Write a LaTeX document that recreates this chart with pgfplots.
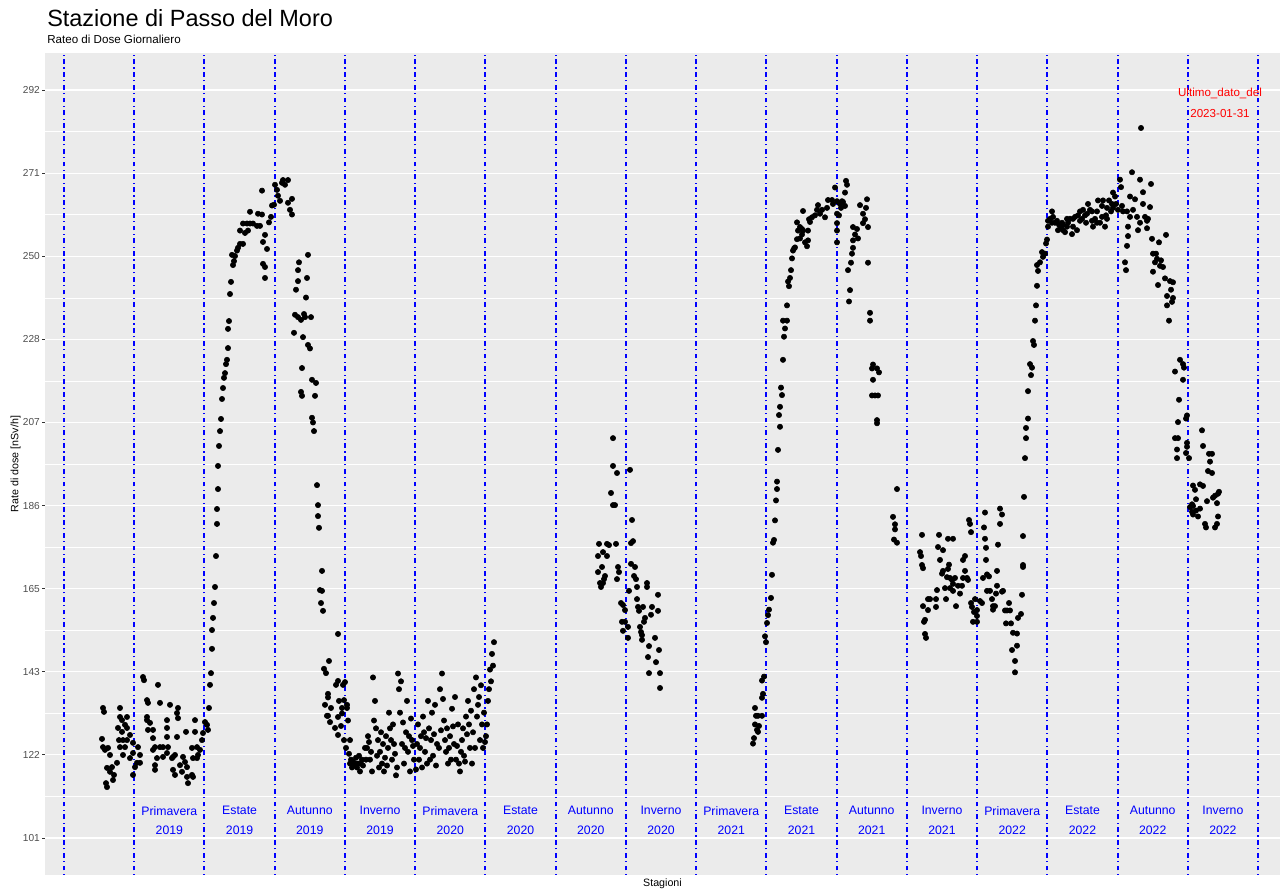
\documentclass[border=0pt]{standalone}
\usepackage{fontspec}
\setmainfont{Liberation Sans}
\usepackage{pgfplots}
\pgfplotsset{compat=1.18}
\definecolor{panelbg}{HTML}{EBEBEB}
\definecolor{ticklab}{HTML}{4D4D4D}
\definecolor{tickcol}{HTML}{333333}
\definecolor{vblue}{HTML}{0000FF}
\pgfplotstableread{
x y
103 134.2
104 133.2
102 126.3
103 124.2
105 123.5
108 124.0
110 122.2
107 118.9
112 119.1
110 117.9
117 120.2
114 117.1
113 115.8
106 115.0
107 114.0
120 134.2
120 131.9
122 131.1
127 131.9
125 129.9
118 129.1
122 128.1
127 129.1
130 127.3
119 126.0
123 126.0
127 126.0
120 124.2
125 124.2
123 122.2
130 121.4
133 125.3
133 122.7
135 119.1
133 117.1
137 120.2
140 120.2
138 124.2
140 122.2
143 142.1
144 141.3
147 136.2
148 135.5
158 140.1
147 131.9
147 131.1
150 130.4
153 128.6
148 128.6
153 126.5
155 124.2
160 124.2
163 124.2
168 124.2
153 123.5
157 121.4
155 119.6
155 118.4
163 121.7
167 122.7
160 135.5
170 135.0
167 131.1
167 129.1
167 126.8
177 126.8
178 134.2
177 132.9
178 131.6
173 121.7
175 122.2
173 118.4
175 117.1
172 121.4
180 119.6
183 121.7
185 120.4
182 117.9
187 119.1
187 116.6
188 115.0
192 117.1
193 116.6
186 128.1
195 131.1
195 128.1
192 124.0
197 124.2
193 121.4
197 121.4
198 122.2
200 123.5
202 126.0
203 127.8
205 130.6
207 129.9
208 128.6
209 134.2
210 140.1
211 143.1
212 149.3
212 154.1
213 157.2
214 161.0
215 165.1
216 173.0
217 181.2
217 185.0
218 190.1
218 196.0
219 201.1
220 204.9
221 208.0
222 213.1
223 215.9
224 218.5
225 219.7
226 222.0
227 223.1
228 226.1
228 231.0
229 233.0
230 239.9
231 243.0
233 247.3
234 248.3
232 249.9
235 249.6
237 251.0
238 251.7
240 252.7
243 252.7
240 256.1
245 255.5
243 257.9
248 256.1
247 257.9
250 257.9
253 257.9
257 257.3
260 257.3
250 260.9
258 260.4
262 260.2
262 266.3
263 253.2
265 255.0
267 251.4
263 247.6
265 246.8
265 244.0
269 258.2
271 259.6
272 262.5
274 262.7
275 267.8
277 266.5
278 265.0
280 263.7
282 268.3
283 269.0
285 267.8
288 269.0
288 263.2
292 264.2
290 261.4
292 260.2
308 249.9
299 248.0
298 246.0
307 244.0
298 243.2
296 241.0
306 239.0
295 234.6
298 234.0
301 233.3
304 234.8
305 234.0
311 234.0
294 230.0
303 228.9
308 226.9
310 226.0
302 221.0
312 218.0
316 217.2
301 214.9
302 213.9
315 213.9
312 208.3
313 207.1
314 204.9
317 191.1
318 186.0
318 183.2
319 180.2
322 169.2
320 164.3
322 164.1
321 161.0
323 159.0
338 153.1
329 146.2
324 144.2
326 143.1
338 141.1
336 140.1
345 140.8
343 140.1
328 137.8
328 136.9
325 135.0
331 134.2
339 136.0
344 136.2
342 134.2
347 134.2
327 132.2
328 132.2
338 131.9
342 132.8
330 130.6
335 129.1
338 127.3
341 129.6
344 126.0
346 124.0
347 135.0
348 131.0
350 126.0
350 120.0
352 119.0
355 120.0
358 120.0
360 118.0
362 121.0
365 124.0
367 124.0
368 127.0
370 121.0
372 118.0
373 142.0
375 136.0
376 129.0
378 126.0
380 123.0
382 120.0
384 118.0
386 127.0
388 124.0
390 129.0
392 121.0
394 125.0
396 117.0
398 143.0
399 139.0
400 133.0
402 125.0
404 120.0
406 128.0
408 123.0
410 118.0
412 126.0
414 121.0
417 125.0
419 121.0
421 127.0
423 132.0
425 123.0
427 120.0
429 129.0
431 126.0
433 122.0
435 135.0
437 125.0
440 139.0
442 143.0
444 131.0
446 123.0
448 120.0
450 127.0
452 134.0
454 125.0
456 121.0
458 130.0
460 118.0
462 126.0
464 122.0
466 132.0
468 136.0
470 124.0
472 120.0
474 139.0
476 142.0
478 135.0
480 126.0
482 130.0
484 133.0
486 127.0
488 136.0
489 139.0
490 144.0
492 148.0
494 151.0
349 122.5
351 121.0
353 120.5
354 119.5
356 121.5
357 119.0
359 122.0
361 120.0
363 119.5
366 121.0
369 125.5
371 123.0
374 131.0
377 122.0
379 119.0
381 128.0
383 125.0
385 121.5
387 119.5
389 133.0
391 126.0
393 130.0
395 122.5
397 119.0
401 141.0
403 130.5
405 124.0
407 136.0
409 127.0
411 131.5
413 124.5
416 118.5
418 130.0
420 124.0
422 119.0
424 128.0
426 126.5
428 136.0
430 121.0
432 133.0
434 127.5
436 119.5
439 124.0
441 128.5
443 136.5
445 126.0
447 129.0
449 124.0
451 121.0
453 129.5
455 137.0
457 124.5
459 120.0
461 123.0
463 129.0
465 120.5
467 127.5
469 130.0
471 133.5
473 128.0
475 124.0
477 132.0
479 137.0
481 140.0
483 124.0
485 125.5
487 130.0
491 141.0
493 145.0
613 203.1
613 196.0
617 194.2
630 195.0
611 189.1
613 186.0
615 186.0
632 182.2
599 176.1
607 176.1
609 175.8
616 176.1
603 174.0
598 173.0
607 173.0
631 176.3
633 176.8
631 171.0
635 170.2
602 170.2
598 168.9
618 170.2
619 168.9
605 167.9
604 167.1
617 167.1
634 167.9
636 167.1
600 166.1
603 166.1
601 165.1
637 165.1
647 166.1
647 165.1
629 164.1
621 161.0
623 160.5
625 159.2
637 162.0
638 160.0
643 160.0
652 160.0
658 163.1
639 159.0
651 158.0
658 159.0
645 157.2
644 156.2
622 156.2
625 156.2
628 154.9
623 153.9
640 154.9
641 153.6
642 152.8
628 152.1
642 151.6
655 152.1
649 150.0
659 149.0
648 147.2
656 145.9
649 143.1
660 143.1
660 139.3
753 125.1
754 126.5
755 130.0
757 128.6
758 128.1
759 129.6
756 132.2
758 132.2
762 132.2
755 134.2
762 136.8
763 137.8
762 141.2
764 142.2
765 152.5
766 151.0
767 155.9
768 157.9
769 159.3
771 162.3
772 168.2
773 176.4
774 177.1
775 182.1
776 187.2
777 190.1
777 192.0
778 200.1
780 206.0
779 209.0
780 211.1
782 214.1
781 216.0
783 223.1
784 229.0
785 231.1
783 233.1
787 233.1
787 237.0
789 241.9
788 243.1
790 244.0
791 246.0
792 249.0
793 251.0
794 251.5
797 253.9
795 251.8
800 254.1
802 255.1
798 256.1
805 253.1
807 252.1
808 253.6
797 258.2
800 257.0
802 256.5
803 256.1
808 256.1
803 261.1
809 259.0
810 258.3
812 259.5
815 260.0
817 261.4
818 262.6
820 260.4
822 261.4
825 259.5
827 261.9
828 263.9
832 263.9
833 262.9
837 263.6
840 262.9
842 263.6
843 263.4
845 262.4
835 267.1
846 268.8
847 267.8
845 265.8
837 260.4
837 258.0
837 256.1
837 253.1
839 260.0
841 261.9
860 262.6
867 264.1
866 261.9
863 260.4
865 259.0
863 258.0
868 257.0
853 257.0
857 256.5
855 255.1
858 254.1
853 253.6
853 251.7
852 250.2
851 247.9
848 246.0
868 247.9
850 240.9
849 238.0
870 235.1
870 233.1
873 221.9
872 220.9
877 220.9
879 219.9
873 218.0
872 214.0
875 214.0
878 214.0
877 207.7
877 206.9
897 190.1
893 183.0
895 181.1
895 179.8
894 177.2
897 176.4
922 178.4
920 174.0
921 173.0
922 170.7
923 169.9
923 160.2
928 162.0
930 162.0
928 159.2
925 156.7
924 156.2
925 153.1
926 152.1
936 162.0
936 160.0
937 164.3
939 178.4
938 175.3
940 172.0
943 174.5
942 168.5
943 169.2
945 164.8
946 162.0
947 167.6
948 169.7
949 170.8
948 177.4
953 177.4
950 167.4
952 166.9
953 165.9
955 167.4
950 164.8
953 164.1
956 160.2
958 165.4
960 163.4
962 165.4
963 167.4
965 169.2
963 172.0
965 173.0
967 167.4
968 166.9
969 182.2
970 181.2
971 179.1
971 161.0
972 160.0
973 156.2
974 158.7
975 162.0
977 159.2
977 157.7
977 156.2
980 161.5
982 161.0
983 167.4
985 184.1
984 180.3
985 177.4
986 175.1
986 172.0
987 168.3
989 167.8
987 164.1
990 164.1
992 162.0
993 160.2
993 159.3
995 160.2
996 163.4
997 165.4
997 169.2
998 175.9
1000 181.2
1000 185.1
1002 183.6
1002 163.9
1003 164.1
1005 159.1
1006 155.8
1007 159.1
1009 161.0
1010 159.1
1011 155.8
1012 149.0
1015 146.2
1015 143.3
1013 153.4
1017 150.1
1017 153.2
1018 157.2
1021 158.2
1022 163.1
1023 170.7
1023 170.2
1023 178.1
1024 188.1
1025 198.0
1026 203.1
1026 205.7
1028 208.1
1028 215.1
1031 219.2
1032 221.1
1030 222.0
1033 227.9
1034 226.9
1035 233.1
1036 237.0
1037 242.0
1037 247.3
1038 245.8
1040 248.0
1042 250.6
1043 249.4
1045 250.2
1046 252.8
1047 253.8
1048 257.1
1048 258.6
1050 259.1
1052 261.0
1053 259.6
1055 258.1
1057 258.6
1059 257.6
1061 256.7
1063 256.2
1065 255.7
1063 257.6
1067 257.1
1068 258.1
1070 259.1
1072 255.2
1073 259.1
1075 259.6
1077 256.2
1078 260.0
1080 261.0
1082 259.1
1083 261.4
1085 260.0
1086 258.1
1088 262.9
1090 261.4
1092 261.0
1093 257.1
1095 259.1
1097 261.0
1098 263.8
1100 258.1
1102 262.4
1103 263.8
1105 257.1
1106 260.0
1107 261.9
1109 263.8
1111 261.0
1112 262.9
1113 265.8
1115 264.8
1116 262.9
1118 261.4
1120 269.1
1121 267.2
1122 262.4
1123 261.0
1052 258.1
1058 256.2
1062 258.1
1067 259.1
1073 257.1
1080 258.6
1087 260.4
1092 258.6
1097 258.1
1102 259.6
1107 259.1
1113 261.9
1141 282.3
1132 271.0
1140 269.1
1151 268.0
1130 264.8
1135 264.1
1143 265.9
1143 262.9
1150 262.1
1127 261.0
1133 261.4
1137 259.6
1130 259.6
1140 258.1
1145 259.6
1147 258.6
1148 259.1
1147 256.7
1138 256.2
1128 257.1
1128 254.7
1127 252.2
1125 248.0
1126 246.0
1152 254.0
1159 253.1
1166 255.0
1153 250.2
1156 250.2
1157 248.9
1155 248.0
1161 248.5
1160 247.1
1163 246.8
1153 245.6
1165 243.9
1158 242.2
1170 243.2
1173 242.9
1171 241.0
1167 239.4
1173 238.9
1172 237.9
1167 237.0
1169 233.1
1175 220.1
1180 223.1
1183 222.0
1184 221.1
1183 218.0
1179 212.9
1186 208.1
1187 208.9
1178 207.2
1175 203.1
1178 203.1
1177 200.2
1177 198.0
1187 201.9
1187 200.9
1186 199.3
1189 198.0
1202 205.1
1203 201.1
1209 199.1
1212 199.1
1210 197.1
1208 194.7
1212 194.2
1193 191.0
1195 189.9
1200 191.3
1203 190.9
1196 187.5
1192 186.2
1190 185.5
1193 185.8
1192 184.3
1196 184.6
1200 185.1
1193 183.6
1198 183.1
1205 181.2
1206 180.3
1215 180.3
1217 181.2
1218 183.1
1215 188.4
1213 187.9
1218 188.9
1219 189.4
1217 186.5
1207 187.0
}\dosedata
\begin{document}
\begin{tikzpicture}
\useasboundingbox (-33.75pt,-12.75pt) rectangle (932.25pt,656.25pt);
\begin{axis}[
  at={(0,0)}, anchor=south west,
  scale only axis, width=926.25pt, height=616.5pt,
  xmin=45, xmax=1280, ymin=91.55, ymax=301.45,
  axis background/.style={fill=panelbg},
  axis line style={draw=none},
  xtick=\empty,
  ytick={101,122.222,143.444,164.667,185.889,207.111,228.333,249.556,270.778,292},
  yticklabels={101,122,143,165,186,207,228,250,271,292},
  minor ytick={111.611,132.833,154.056,175.278,196.5,217.722,238.944,260.167,281.389},
  ymajorgrids, yminorgrids,
  major grid style={white, line width=0.8pt},
  minor grid style={white, line width=0.4pt},
  ytick pos=left, tick align=outside,
  major tick length=2.2pt, minor tick length=0pt,
  tick style={tickcol, line width=0.6pt},
  yticklabel style={font=\fontsize{7.6}{9}\selectfont, text=ticklab, inner sep=1.5pt},
  clip=true,
]
\addplot[only marks, mark=*, mark size=2pt, mark options={fill=black, draw=black}] table[x=x, y=y] {\dosedata};
\pgfplotsinvokeforeach{64,134,204,275,345,415,485,556,626,696,766,837,907,977,1047,1118,1188,1258}{
  \draw[vblue, line width=1.05pt, dash pattern=on 0.9pt off 2.6pt on 3.5pt off 2.6pt] (axis cs:#1,91.55) -- (axis cs:#1,301.45);
}
\tikzset{season/.style={vblue, align=center, font=\fontsize{9.2}{14.5}\selectfont}}
\node[season] at (axis cs:169.35,105.5) {Primavera\\2019};
\node[season] at (axis cs:239.6,105.5) {Estate\\2019};
\node[season] at (axis cs:309.8,105.5) {Autunno\\2019};
\node[season] at (axis cs:380.05,105.5) {Inverno\\2019};
\node[season] at (axis cs:450.3,105.5) {Primavera\\2020};
\node[season] at (axis cs:520.55,105.5) {Estate\\2020};
\node[season] at (axis cs:590.8,105.5) {Autunno\\2020};
\node[season] at (axis cs:661,105.5) {Inverno\\2020};
\node[season] at (axis cs:731.25,105.5) {Primavera\\2021};
\node[season] at (axis cs:801.5,105.5) {Estate\\2021};
\node[season] at (axis cs:871.7,105.5) {Autunno\\2021};
\node[season] at (axis cs:941.95,105.5) {Inverno\\2021};
\node[season] at (axis cs:1012.2,105.5) {Primavera\\2022};
\node[season] at (axis cs:1082.45,105.5) {Estate\\2022};
\node[season] at (axis cs:1152.7,105.5) {Autunno\\2022};
\node[season] at (axis cs:1222.9,105.5) {Inverno\\2022};
\node[red, align=center, font=\fontsize{8.7}{15.75}\selectfont] at (axis cs:1220,288.6) {Ultimo\_dato\_del\\2023-01-31};
\end{axis}
\node[anchor=base west, inner sep=0pt, font=\fontsize{17.6}{20}\selectfont] at (1.5pt,636pt) {Stazione di Passo del Moro};
\node[anchor=base west, inner sep=0pt, font=\fontsize{8.7}{10}\selectfont] at (1.5pt,623.25pt) {Rateo di Dose Giornaliero};
\node[rotate=90, font=\fontsize{8}{10}\selectfont] at (-22.1pt,308.25pt) {Rate di dose [nSv/h]};
\node[anchor=base, font=\fontsize{8}{10}\selectfont] at (463.1pt,-9pt) {Stagioni};
\end{tikzpicture}
\end{document}
